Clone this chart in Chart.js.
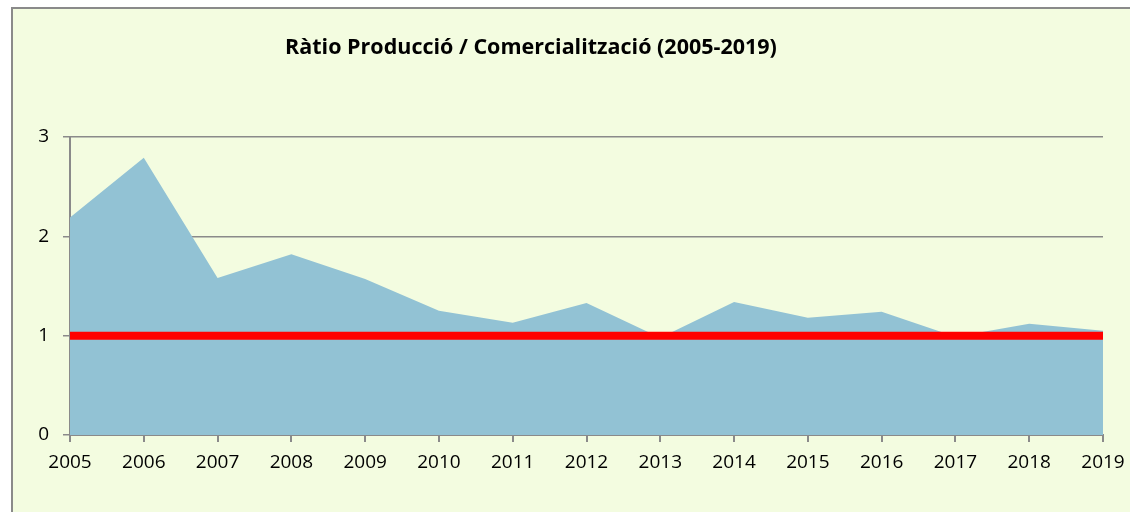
<!DOCTYPE html>
<html>
<head>
<meta charset="utf-8">
<script src="https://cdn.jsdelivr.net/npm/chart.js@4"></script>
<style>
  body { margin: 0; background: #fff; }
  #bg {
    position: absolute; left: 11px; top: 7px; width: 1300px; height: 700px;
    background: #F3FCE0; border: 2px solid #8a8a8a;
  }
  #wrap { position: absolute; left: 0; top: 0; width: 1130px; height: 512px; }
</style>
</head>
<body>
<div id="bg"></div>
<div id="wrap"><canvas id="ratioChart"></canvas></div>
<script>
const years = ['2005','2006','2007','2008','2009','2010','2011','2012','2013','2014','2015','2016','2017','2018','2019'];
const ratio = [2.19, 2.79, 1.58, 1.82, 1.57, 1.25, 1.13, 1.33, 0.98, 1.34, 1.18, 1.24, 0.99, 1.12, 1.05];
const reference = [1, 1, 1, 1, 1, 1, 1, 1, 1, 1, 1, 1, 1, 1, 1];
const titleText = 'Ràtio Producció / Comercialització (2005-2019)';

const fontFam = "'Open Sans', 'Noto Sans', sans-serif";

// title drawn at a fixed spot (excel puts it slightly left of centre)
const titlePlugin = {
  id: 'titlePlugin',
  afterDraw(chart) {
    const ctx = chart.ctx;
    ctx.save();
    ctx.font = 'bold 21.5px ' + fontFam;
    ctx.fillStyle = '#000';
    ctx.textAlign = 'center';
    ctx.textBaseline = 'middle';
    ctx.fillText(titleText, 531, 48);
    ctx.restore();
  }
};

let ctx = document.getElementById('ratioChart').getContext('2d');
let ratioChart = new Chart(ctx, {
  type: 'line',
  data: {
    labels: years,
    datasets: [
      {
        label: 'Referència',
        data: reference,
        borderColor: '#FF0000',
        borderWidth: 8,
        borderCapStyle: 'butt',
        pointRadius: 0,
        fill: false,
        order: 0,
      },
      {
        label: 'Ràtio',
        data: ratio,
        backgroundColor: '#92C2D4',
        borderColor: '#92C2D4',
        borderWidth: 0,
        pointRadius: 0,
        tension: 0,
        fill: 'origin',
        order: 1,
      }
    ]
  },
  options: {
    responsive: true,
    maintainAspectRatio: false,
    animation: false,
    layout: {
      padding: { left: 0, right: 27, top: 137, bottom: 0 }
    },
    plugins: {
      legend: { display: false },
      title: { display: false },
      tooltip: { enabled: false },
    },
    scales: {
      x: {
        offset: false,
        grid: {
          drawOnChartArea: false,
          drawTicks: true,
          tickLength: 7,
          color: '#8a8a8a',
          lineWidth: 2,
        },
        border: { color: '#8a8a8a', width: 2 },
        ticks: {
          color: '#000',
          padding: 9,
          maxRotation: 0,
          autoSkip: false,
          font: { family: fontFam, size: 19 },
        },
        afterFit(scale) {
          scale.height = 77;
          scale.paddingLeft = 0;
          scale.paddingRight = 0;
        },
      },
      y: {
        min: 0,
        max: 3,
        ticks: {
          stepSize: 1,
          color: '#000',
          padding: 14,
          font: { family: fontFam, size: 19 },
        },
        grid: {
          color: '#8a8a8a',
          lineWidth: 1.5,
          tickLength: 7,
        },
        border: { color: '#8a8a8a', width: 2 },
        afterFit(scale) { scale.width = 70; },
      },
    },
  },
  plugins: [titlePlugin]
});
</script>
</body>
</html>
